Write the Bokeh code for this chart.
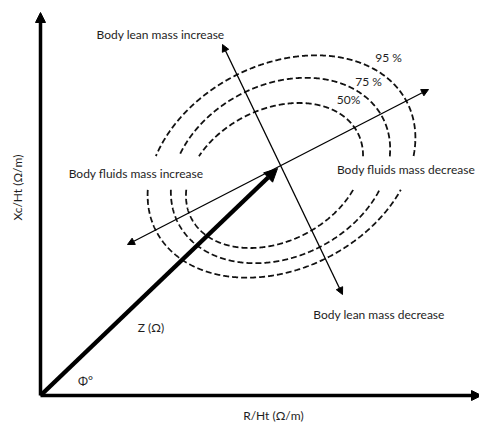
import numpy as np
from bokeh.plotting import figure
from bokeh.models import Range1d, Arrow, NormalHead, ColumnDataSource
from bokeh.core.properties import value
from bokeh.embed import file_html
from bokeh.resources import INLINE

# Diagram coordinates: origin at the axes' corner, one unit ~ one pixel
# Ellipses (tolerance levels)
level_labels = ["50%", "75 %", "95 %"]
ellipse_cx = [234, 240, 241]
ellipse_cy = [220, 225, 229]
ellipse_a = [93.5, 115, 141]      # semi-major
ellipse_b = [66, 86, 102]         # semi-minor
ellipse_angle_deg = 27
gap_band = [206, 239]             # y band where the ellipses are interrupted by the side labels

# Impedance vector Z
z_end = [237, 227]
# Body fluids axis (both ends arrowed)
fluids_start = [87, 151]
fluids_end = [388, 306]
# Body lean axis (both ends arrowed)
lean_start = [182, 351]
lean_end = [302, 101]
# Main axes
x_axis_end = 441
y_axis_end = 383

# Annotations
label_texts = ["Body lean mass increase", "Body lean mass decrease",
               "Body fluids mass increase", "Body fluids mass decrease",
               "Z (\u03a9)", "\u03a6\u00b0"]
label_x = [120, 338.5, 95.5, 365.5, 110.5, 45]
label_y = [361, 81, 222, 226, 68, 15]
level_label_x = [308, 328, 348]
level_label_y = [296, 314, 338]
x_title = "R/Ht (\u03a9/m)"
y_title = "Xc/Ht (\u03a9/m)"

FONT = "Lato"
FSIZE = "12px"
TCOLOR = "#1e1e1e"
p = figure(width=479, height=424, x_range=Range1d(-40, 439), y_range=Range1d(-29, 395),
           output_backend="svg", toolbar_location=None, min_border=0)
p.axis.visible = False
p.grid.visible = False
p.outline_line_color = None
p.background_fill_color = "white"

# dashed ellipses with gaps
th = np.deg2rad(ellipse_angle_deg)
t = np.linspace(0, 2 * np.pi, 1441)
xs_all, ys_all = [], []
for cx, cy, a, b in zip(ellipse_cx, ellipse_cy, ellipse_a, ellipse_b):
    ex = cx + a * np.cos(t) * np.cos(th) - b * np.sin(t) * np.sin(th)
    ey = cy + a * np.cos(t) * np.sin(th) + b * np.sin(t) * np.cos(th)
    keep = ~((ey > gap_band[0]) & (ey < gap_band[1]))
    idx = np.where(keep)[0]
    segs = np.split(idx, np.where(np.diff(idx) != 1)[0] + 1)
    if len(segs) > 1 and segs[0][0] == 0 and segs[-1][-1] == len(t) - 1:
        segs[0] = np.concatenate([segs[-1], segs[0]])
        segs = segs[:-1]
    for s in segs:
        xs_all.append(ex[s].tolist())
        ys_all.append(ey[s].tolist())
p.multi_line(xs_all, ys_all, line_color="#111111", line_width=1.8, line_dash="6 3")

# main axes
p.add_layout(Arrow(x_start=0, y_start=0, x_end=x_axis_end, y_end=0, line_width=3.5,
                   line_color="black",
                   end=NormalHead(size=10, fill_color="black", line_color="black")))
p.add_layout(Arrow(x_start=0, y_start=0, x_end=0, y_end=y_axis_end, line_width=3.5,
                   line_color="black",
                   end=NormalHead(size=10, fill_color="black", line_color="black")))

# double-headed thin axes
for s, e in [(fluids_start, fluids_end), (lean_start, lean_end)]:
    p.add_layout(Arrow(x_start=s[0], y_start=s[1], x_end=e[0], y_end=e[1], line_width=1.3,
                       line_color="black",
                       start=NormalHead(size=7, fill_color="black", line_color="black"),
                       end=NormalHead(size=7, fill_color="black", line_color="black")))

# impedance vector
p.add_layout(Arrow(x_start=0, y_start=0, x_end=z_end[0], y_end=z_end[1], line_width=4.5,
                   line_color="black",
                   end=NormalHead(size=13, fill_color="black", line_color="black")))

src = ColumnDataSource(dict(x=label_x, y=label_y, text=label_texts))
p.text("x", "y", text="text", source=src, text_font=value(FONT), text_font_size=FSIZE,
       text_align="center", text_baseline="middle", text_color=TCOLOR)
src2 = ColumnDataSource(dict(x=level_label_x, y=level_label_y, text=level_labels))
p.text("x", "y", text="text", source=src2, text_font=value(FONT), text_font_size=FSIZE,
       text_align="center", text_baseline="middle", text_color=TCOLOR)

p.text(x=[233], y=[-20], text=[x_title], text_font=value(FONT), text_font_size=FSIZE,
       text_align="center", text_baseline="middle", text_color=TCOLOR)
p.text(x=[-23], y=[208], text=[y_title], text_font=value(FONT), text_font_size=FSIZE,
       text_align="center", text_baseline="middle", text_color=TCOLOR, angle=np.pi / 2)

open("out.html", "w").write(file_html(p, INLINE))
